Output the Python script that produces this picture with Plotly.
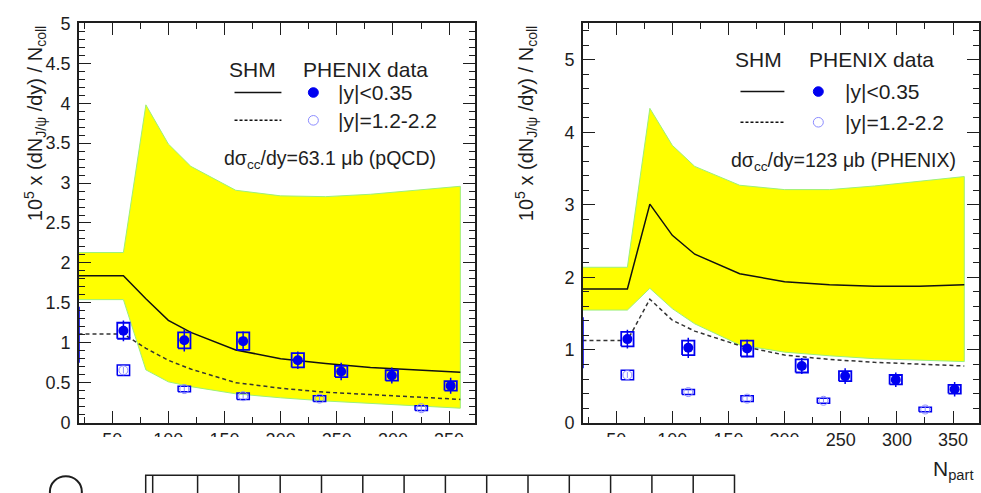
import plotly.graph_objects as go

# ---------------- data ----------------
npart_model = [20, 60, 80, 100, 120, 160, 200, 240, 280, 320, 360]

# left panel: dsigma_cc/dy = 63.1 ub (pQCD)
band_hi_L = [2.13, 2.13, 3.98, 3.49, 3.21, 2.91, 2.84, 2.83, 2.86, 2.91, 2.96]
band_lo_L = [1.54, 1.54, 0.66, 0.51, 0.45, 0.36, 0.31, 0.27, 0.24, 0.21, 0.18]
shm_mid_L = [1.84, 1.84, 1.55, 1.28, 1.13, 0.91, 0.80, 0.74, 0.69, 0.66, 0.63]
shm_fwd_L = [1.11, 1.11, 0.93, 0.78, 0.67, 0.50, 0.43, 0.38, 0.35, 0.32, 0.29]

# right panel: dsigma_cc/dy = 123 ub (PHENIX)
band_hi_R = [2.14, 2.14, 4.33, 3.82, 3.53, 3.27, 3.21, 3.21, 3.26, 3.33, 3.39]
band_lo_R = [1.55, 1.55, 1.85, 1.57, 1.36, 1.07, 0.97, 0.92, 0.88, 0.86, 0.84]
shm_mid_R = [1.84, 1.84, 3.01, 2.58, 2.32, 2.05, 1.94, 1.90, 1.88, 1.88, 1.90]
shm_fwd_R = [1.13, 1.13, 1.70, 1.41, 1.26, 1.06, 0.93, 0.87, 0.83, 0.80, 0.78]

# PHENIX data |y|<0.35
npart_mid = [60.0, 114.2, 166.6, 215.3, 253.9, 299.0, 351.4]
jpsi_mid = [1.15, 1.03, 1.02, 0.78, 0.64, 0.59, 0.46]
stat_mid = [0.13, 0.14, 0.12, 0.11, 0.11, 0.10, 0.10]
sys_mid = [0.10, 0.10, 0.11, 0.09, 0.07, 0.065, 0.06]

# PHENIX data |y|=1.2-2.2
npart_fwd = [60.0, 114.2, 166.6, 234.6, 325.2]
jpsi_fwd = [0.655, 0.42, 0.33, 0.30, 0.18]
stat_fwd = [0.04, 0.03, 0.03, 0.03, 0.04]
sys_fwd = [0.065, 0.035, 0.04, 0.035, 0.03]

# pp reference (box clipped at the left edge)
npart_pp = [2.0]
jpsi_pp = [1.10]
sys_pp = [0.34]

x_ticks = [50, 100, 150, 200, 250, 300, 350]

# ---------------- style ----------------
W, H = 981, 493
FONT = "Liberation Sans, Arial, sans-serif"
INK = "#1e1e1e"
BLUE = "#0000f0"
LBLUE = "#8c8cff"
BOX_HW = 5.5
PP_HW = 18.5


def px(x):
    return x / W


def py(y):
    return 1 - y / H


def box_path(xs, ys, es, hw):
    bx, by = [], []
    for x, y, e in zip(xs, ys, es):
        bx += [x - hw, x + hw, x + hw, x - hw, x - hw, None]
        by += [y - e, y - e, y + e, y + e, y - e, None]
    return bx, by


fig = go.Figure()

panels = [
    ("x", "y", band_hi_L, band_lo_L, shm_mid_L, shm_fwd_L),
    ("x2", "y2", band_hi_R, band_lo_R, shm_mid_R, shm_fwd_R),
]

for xa, ya, hi, lo, mid, fwd in panels:
    fig.add_trace(go.Scatter(
        x=npart_model + npart_model[::-1], y=hi + lo[::-1],
        fill="toself", fillcolor="#ffff00", mode="lines",
        line=dict(color="#9cf07a", width=1), xaxis=xa, yaxis=ya,
        hoverinfo="skip", showlegend=False))
    fig.add_trace(go.Scatter(
        x=npart_model, y=mid, mode="lines",
        line=dict(color="#111111", width=1.5), xaxis=xa, yaxis=ya,
        showlegend=False))
    fig.add_trace(go.Scatter(
        x=npart_model, y=fwd, mode="lines",
        line=dict(color="#333333", width=1.5, dash="4px,3px"),
        xaxis=xa, yaxis=ya, showlegend=False))
    # pp reference box
    bx, by = box_path(npart_pp, jpsi_pp, sys_pp, PP_HW)
    fig.add_trace(go.Scatter(x=bx, y=by, mode="lines",
                             line=dict(color=BLUE, width=1.5),
                             xaxis=xa, yaxis=ya, showlegend=False))
    # forward data
    bx, by = box_path(npart_fwd, jpsi_fwd, sys_fwd, BOX_HW)
    fig.add_trace(go.Scatter(x=bx, y=by, mode="lines",
                             line=dict(color=BLUE, width=1.5),
                             xaxis=xa, yaxis=ya, showlegend=False))
    fig.add_trace(go.Scatter(
        x=npart_fwd, y=jpsi_fwd, mode="markers",
        marker=dict(symbol="circle-open", size=9, color=LBLUE,
                    line=dict(width=1)),
        error_y=dict(type="data", array=stat_fwd, color=LBLUE,
                     thickness=1, width=0),
        xaxis=xa, yaxis=ya, showlegend=False))
    # mid-rapidity data
    bx, by = box_path(npart_mid, jpsi_mid, sys_mid, BOX_HW)
    fig.add_trace(go.Scatter(x=bx, y=by, mode="lines",
                             line=dict(color=BLUE, width=1.8),
                             xaxis=xa, yaxis=ya, showlegend=False))
    fig.add_trace(go.Scatter(
        x=npart_mid, y=jpsi_mid, mode="markers",
        marker=dict(symbol="circle", size=10, color=BLUE),
        error_y=dict(type="data", array=stat_mid, color=BLUE,
                     thickness=1.5, width=0),
        xaxis=xa, yaxis=ya, showlegend=False))

axis_common = dict(
    showline=True, linewidth=1.5, linecolor=INK, mirror="allticks",
    ticks="inside", ticklen=12, tickwidth=1.3, tickcolor=INK,
    showgrid=False, zeroline=False,
    tickfont=dict(family=FONT, size=18, color=INK),
)

xr = [20.3, 373.1]
fig.update_layout(
    width=W, height=H, autosize=False,
    margin=dict(l=0, r=0, t=0, b=0),
    paper_bgcolor="white", plot_bgcolor="white",
    xaxis=dict(domain=[px(79), px(476)], range=xr, tickvals=x_ticks,
               minor=dict(ticks="inside", ticklen=6, dtick=25, tick0=0,
                          tickwidth=1.2, tickcolor=INK),
               anchor="y", **axis_common),
    yaxis=dict(domain=[py(430), py(14)], range=[0, 5], dtick=0.5, tick0=0,
               minor=dict(ticks="inside", ticklen=6, dtick=0.1, tick0=0,
                          tickwidth=1.2, tickcolor=INK),
               ticklabelstandoff=3,
               anchor="x", **axis_common),
    xaxis2=dict(domain=[px(584), 1.0], range=xr, tickvals=x_ticks,
                minor=dict(ticks="inside", ticklen=6, dtick=25, tick0=0,
                           tickwidth=1.2, tickcolor=INK),
                anchor="y2", **axis_common),
    yaxis2=dict(domain=[py(430), py(14)], range=[0, 5.5], dtick=1, tick0=0,
                minor=dict(ticks="inside", ticklen=6, dtick=0.2, tick0=0,
                           tickwidth=1.2, tickcolor=INK),
                ticklabelstandoff=3,
                anchor="x2", **axis_common),
)

ann = []
shapes = []


def text(x, y, s, size, xanchor="left", yanchor="middle", angle=0):
    ann.append(dict(x=px(x), y=py(y), xref="paper", yref="paper", text=s,
                    showarrow=False, xanchor=xanchor, yanchor=yanchor,
                    textangle=angle,
                    font=dict(family=FONT, size=size, color=INK)))


ytitle = "10<sup>5</sup> x (dN<sub>J/ψ</sub> /dy) / N<sub>coll</sub>"
text(35, 118, ytitle, 20, xanchor="center", angle=-90)
text(527, 118, ytitle, 20, xanchor="center", angle=-90)

legends = [
    # (shm_x, row0, row1, row2, row3, line_x0, line_x1, circ_x, txt_x, sig_x, label)
    (253, 62, 86, 115, 152, 235, 282, 314, 337, 222,
     "dσ<sub>cc</sub>/dy=63.1 μb (pQCD)"),
    (760, 52, 85, 117, 154, 742, 786, 820, 845, 730,
     "dσ<sub>cc</sub>/dy=123 μb (PHENIX)"),
]
for (sx, r0, r1, r2, r3, lx0, lx1, cx, tx, sgx, lab) in legends:
    text(sx, r0, "SHM", 21, xanchor="center")
    text(sx + 49, r0, "PHENIX data", 21)
    text(tx, r1, "|y|<0.35", 21)
    text(tx, r2, "|y|=1.2-2.2", 21)
    text(sgx, r3 + 4, lab, 19.5)
    shapes.append(dict(type="line", xref="paper", yref="paper",
                       x0=px(lx0), x1=px(lx1), y0=py(r1), y1=py(r1),
                       line=dict(color="#111111", width=1.5)))
    shapes.append(dict(type="line", xref="paper", yref="paper",
                       x0=px(lx0), x1=px(lx1), y0=py(r2), y1=py(r2),
                       line=dict(color="#111111", width=1.5, dash="3px,2px")))
    shapes.append(dict(type="circle", xref="paper", yref="paper",
                       x0=px(cx - 5), x1=px(cx + 5),
                       y0=py(r1 + 5), y1=py(r1 - 5),
                       fillcolor=BLUE, line=dict(color=BLUE, width=1)))
    shapes.append(dict(type="circle", xref="paper", yref="paper",
                       x0=px(cx - 5), x1=px(cx + 5),
                       y0=py(r2 + 5), y1=py(r2 - 5),
                       line=dict(color=LBLUE, width=1)))

# white strip that clips the lower part of the tick labels (as in the scan)
shapes.append(dict(type="rect", xref="paper", yref="paper", layer="above",
                   x0=0, x1=px(815), y0=py(482), y1=py(445),
                   fillcolor="white", line=dict(width=0)))

# partial table of the figure below
tab_line = dict(color=INK, width=1.5)
shapes.append(dict(type="rect", xref="paper", yref="paper", layer="above",
                   x0=px(146), x1=px(736), y0=-0.05, y1=py(485),
                   line=tab_line))
shapes.append(dict(type="line", xref="paper", yref="paper", layer="above",
                   x0=px(153), x1=px(153), y0=-0.05, y1=py(485),
                   line=tab_line))
step = (736 - 198) / 13
for i in range(13):
    xv = 198 + i * step
    shapes.append(dict(type="line", xref="paper", yref="paper", layer="above",
                       x0=px(xv), x1=px(xv), y0=-0.05, y1=py(485),
                       line=tab_line))
# partial circle symbol
shapes.append(dict(type="circle", xref="paper", yref="paper", layer="above",
                   x0=px(50), x1=px(82), y0=py(518), y1=py(486),
                   line=dict(color=INK, width=2)))

text(933, 464, "N<sub>part</sub>", 21, yanchor="top")

fig.update_layout(annotations=ann, shapes=shapes)
fig.write_html("out.html")
